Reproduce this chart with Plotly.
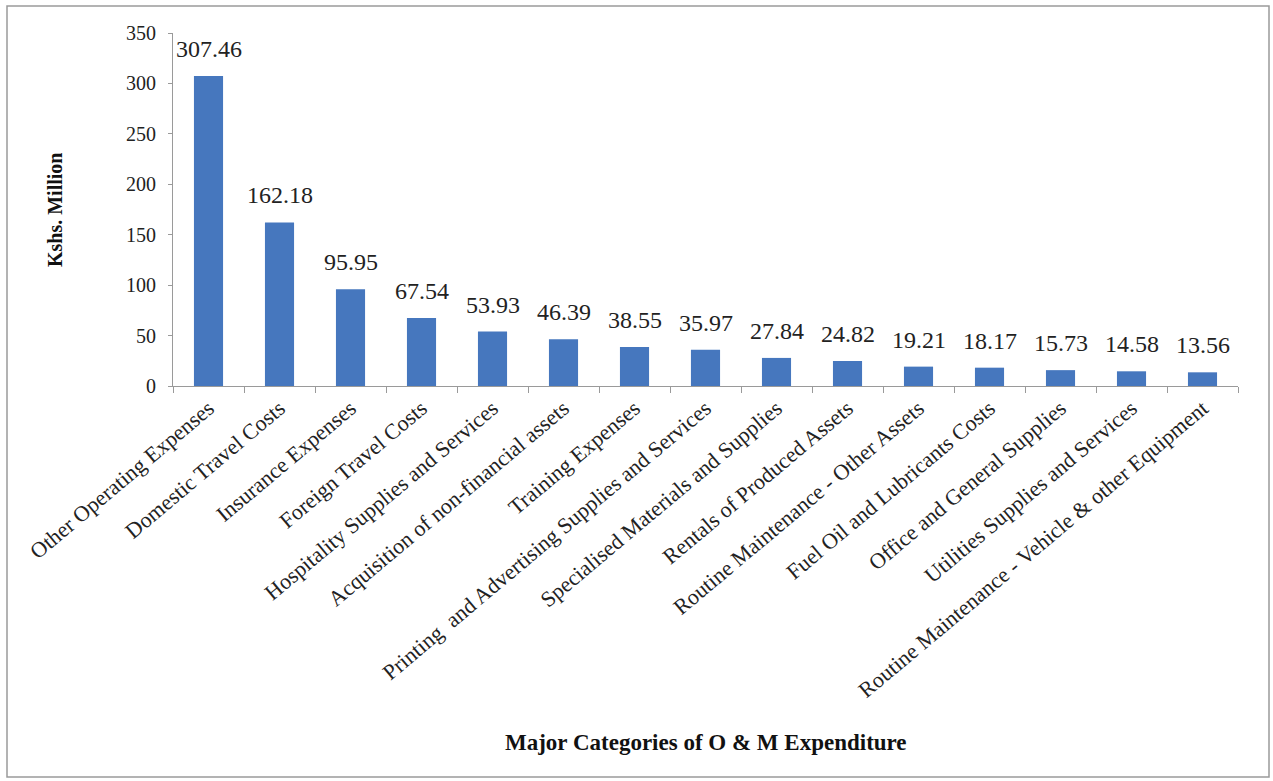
import plotly.graph_objects as go

categories = [
    "Other Operating Expenses",
    "Domestic Travel Costs",
    "Insurance Expenses",
    "Foreign Travel Costs",
    "Hospitality Supplies and Services",
    "Acquisition of non-financial assets",
    "Training Expenses",
    "Printing  and Advertising Supplies and Services",
    "Specialised Materials and Supplies",
    "Rentals of Produced Assets",
    "Routine Maintenance - Other Assets",
    "Fuel Oil and Lubricants Costs",
    "Office and General Supplies",
    "Utilities Supplies and Services",
    "Routine Maintenance - Vehicle & other Equipment",
]
values = [307.46, 162.18, 95.95, 67.54, 53.93, 46.39, 38.55, 35.97, 27.84,
          24.82, 19.21, 18.17, 15.73, 14.58, 13.56]
y_ticks = [0, 50, 100, 150, 200, 250, 300, 350]
y_title = "Kshs. Million"
x_title = "Major Categories of O & M Expenditure"

W, H = 1273, 781
L, R, T, B = 173, 35, 33, 395
pw, ph = W - L - R, H - T - B

def px_x(p):
    return (p - L) / pw

def px_y(p):
    return (H - B - p) / ph

serif = "Liberation Serif"

fig = go.Figure(go.Bar(
    x=categories, y=values, marker=dict(color="#4677BE", line=dict(width=0)),
    width=0.41, hoverinfo="x+y",
))

for c, v in zip(categories, values):
    fig.add_annotation(x=c, y=v, text=f"{v:.2f}", showarrow=False,
                       xanchor="center", yanchor="bottom", yshift=12,
                       font=dict(family=serif, size=24, color="#222222"))

fig.add_annotation(xref="paper", yref="paper", x=px_x(55), y=px_y(210),
                   xanchor="center", yanchor="middle",
                   text=f"<b>{y_title}</b>", textangle=-90, showarrow=False,
                   font=dict(family=serif, size=20, color="#111111"))
fig.add_annotation(xref="paper", yref="paper", x=0.5, y=px_y(743),
                   xanchor="center", yanchor="middle",
                   text=f"<b>{x_title}</b>", showarrow=False,
                   font=dict(family=serif, size=23, color="#111111"))

fig.add_shape(type="rect", xref="paper", yref="paper",
              x0=px_x(7), x1=px_x(1269), y0=px_y(777), y1=px_y(6),
              line=dict(color="#9a9a9a", width=1.5), layer="below")

fig.update_layout(
    width=W, height=H, margin=dict(l=L, r=R, t=T, b=B, autoexpand=False),
    paper_bgcolor="white", plot_bgcolor="white", showlegend=False,
    font=dict(family=serif),
    xaxis=dict(tickangle=-40, tickfont=dict(family=serif, size=22, color="#222222"),
               showline=True, linecolor="#9a9a9a", linewidth=1,
               ticks="outside", tickson="boundaries", ticklen=6, tickcolor="#9a9a9a",
               showgrid=False, range=[-0.5, len(categories) - 0.5]),
    yaxis=dict(range=[0, 350], tickvals=y_ticks,
               tickfont=dict(family=serif, size=20, color="#222222"),
               showline=True, linecolor="#9a9a9a", linewidth=1,
               ticks="outside", ticklen=4, tickcolor="#9a9a9a",
               ticklabelstandoff=8,
               showgrid=False, zeroline=False),
)

fig.write_html("out.html", config={"displayModeBar": False},
               post_script="document.body.style.margin='0';document.body.style.overflow='hidden';")
